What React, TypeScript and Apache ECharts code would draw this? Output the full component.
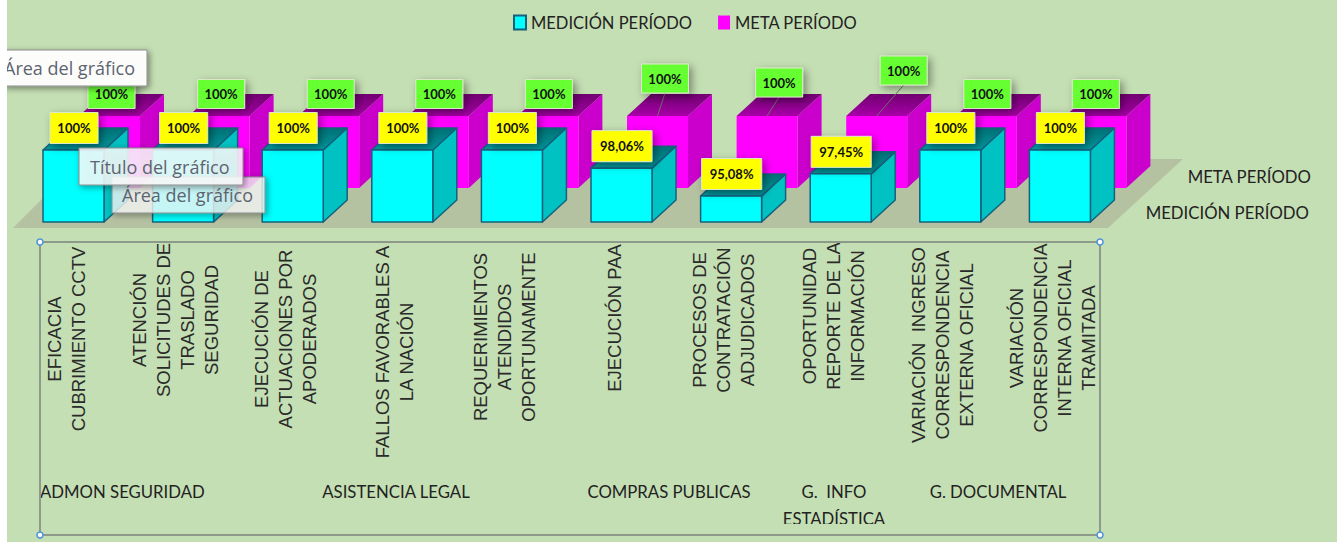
import React, { useEffect, useRef } from "react";
import * as echarts from "echarts";

const categories = [
  "EFICACIA\nCUBRIMIENTO CCTV",
  "ATENCIÓN\nSOLICITUDES DE\nTRASLADO\nSEGURIDAD",
  "EJECUCIÓN DE\nACTUACIONES POR\nAPODERADOS",
  "FALLOS FAVORABLES A\nLA NACIÓN",
  "REQUERIMIENTOS\nATENDIDOS\nOPORTUNAMENTE",
  "EJECUCIÓN PAA",
  "PROCESOS DE\nCONTRATACIÓN\nADJUDICADOS",
  "OPORTUNIDAD\nREPORTE DE LA\nINFORMACIÓN",
  "VARIACIÓN  INGRESO\nCORRESPONDENCIA\nEXTERNA OFICIAL",
  "VARIACIÓN\nCORRESPONDENCIA\nINTERNA OFICIAL\nTRAMITADA",
];
const medicion = [100, 100, 100, 100, 100, 98.06, 95.08, 97.45, 100, 100];
const meta = [100, 100, 100, 100, 100, 100, 100, 100, 100, 100];
const groups = ["ADMON SEGURIDAD", "ASISTENCIA LEGAL", "COMPRAS PUBLICAS", "G.  INFO", "G. DOCUMENTAL"];
const SERIES_MED = "MEDICIÓN PERÍODO";
const SERIES_META = "META PERÍODO";

// layout only
const Y_MIN = 92.3;
const BAR_W = 61;
const DEPTH_X = 24;
const DEPTH_Y = 22;
const META_X = 36;
const META_Y = 34;
const labelCenterY = [339, 320, 339, 352, 337, 318, 320, 316, 345, 338];
const LABEL_BASE_Y = 316;
const metaLabelDx = [38, 38, 38, 37, 37, 43.5, 48, 63, 37, 36];
const metaLabelDy = [0, 0, 0, 0, 0, -15.5, -11.5, -23.5, 0, 0];

const pct = (v: number) => (v === 100 ? "100%" : v.toFixed(2).replace(".", ",") + "%");

const grad = (a: string, b: string) =>
  new echarts.graphic.LinearGradient(0, 0, 0, 1, [
    { offset: 0, color: a },
    { offset: 1, color: b },
  ]);

function box3d(api: any, ox: number, oy: number, c: any) {
  const i = api.value(0);
  const [cx, top] = api.coord([i, api.value(1)]);
  const [, base] = api.coord([i, Y_MIN]);
  const l = cx - BAR_W / 2 + ox;
  const r = l + BAR_W;
  const t = top + oy;
  const b = base + oy;
  const st = { stroke: c.stroke, lineWidth: c.lw, lineJoin: "round" };
  return {
    type: "group",
    children: [
      { type: "polygon", shape: { points: [[r, t], [r + DEPTH_X, t - DEPTH_Y], [r + DEPTH_X, b - DEPTH_Y], [r, b]] }, style: { fill: c.side, ...st } },
      { type: "polygon", shape: { points: [[l, t], [l + DEPTH_X, t - DEPTH_Y], [r + DEPTH_X, t - DEPTH_Y], [r, t]] }, style: { fill: c.top, ...st } },
      { type: "rect", shape: { x: l, y: t, width: BAR_W, height: b - t }, style: { fill: c.front, ...st } },
    ],
  };
}

function tag(cx: number, bottom: number, w: number, h: number, fill: string, text: string) {
  return [
    {
      type: "rect",
      shape: { x: cx - w / 2, y: bottom - h, width: w, height: h },
      style: { fill, stroke: "#dbe8c8", lineWidth: 1, shadowBlur: 8, shadowColor: "rgba(0,0,0,0.4)", shadowOffsetX: 3, shadowOffsetY: 3 },
    },
    {
      type: "text",
      x: cx,
      y: bottom - h / 2,
      style: { text, fill: "#111", fontFamily: "Lato", fontWeight: "bold", fontSize: 13, align: "center", verticalAlign: "middle" },
    },
  ];
}

function tip(x: number, y: number, w: number, h: number, text: string, tx: number, alpha: number, z: number) {
  return [
    {
      type: "rect",
      z,
      shape: { x, y, width: w, height: h },
      style: { fill: `rgba(255,255,255,${alpha})`, stroke: "#8c8c8c", lineWidth: 1, shadowBlur: 6, shadowColor: "rgba(0,0,0,0.45)", shadowOffsetX: 2, shadowOffsetY: 2 },
    },
    {
      type: "text",
      z: z + 1,
      x: tx,
      y: y + h / 2,
      style: { text, fill: "#5d6470", fontFamily: "Open Sans", fontSize: 18, verticalAlign: "middle" },
    },
  ];
}

const darkText = { fill: "#222", fontFamily: "Lato", fontSize: 18, verticalAlign: "middle" };
const SQUEEZE = 0.93;
const dark = (x: number, y: number, text: string, align: string) => ({
  type: "text",
  z: 1,
  x,
  y,
  scaleX: SQUEEZE,
  style: { text, ...darkText, align },
});

export default function App() {
  const ref = useRef<HTMLDivElement>(null);
  useEffect(() => {
    document.body.style.margin = "0";
    document.body.style.overflow = "hidden";
    const chart = echarts.init(ref.current!, null, { renderer: "svg" });
    const corners = [[40, 242], [1100, 242], [40, 535], [1100, 535]];
    chart.setOption({
      animation: false,
      backgroundColor: "#fff",
      legend: {
        data: [SERIES_MED, SERIES_META],
        left: 508,
        top: 9,
        icon: "rect",
        itemWidth: 12,
        itemHeight: 14,
        itemGap: 26,
        textStyle: { fontFamily: "Lato", fontSize: 16.5, color: "#222" },
      },
      grid: [
        { left: 18.7, width: 1096, top: 150, height: 72, outerBoundsMode: "none" },
        { left: 11.2, width: 1096, top: 150, height: 72, outerBoundsMode: "none" },
      ],
      xAxis: [
        {
          type: "category",
          gridIndex: 0,
          data: categories,
          axisLine: { show: false },
          axisTick: { show: false },
          axisLabel: { show: false },
        },
        {
          type: "category",
          gridIndex: 1,
          data: categories.map((value, i) => ({
            value,
            textStyle: {
              align: "center",
              verticalAlign: "middle",
              padding: [0, 2 * (labelCenterY[i] - LABEL_BASE_Y), 0, 0],
            },
          })),
          axisLine: { show: false },
          axisTick: { show: false },
          axisLabel: {
            interval: 0,
            rotate: 90,
            align: "center",
            verticalAlign: "middle",
            margin: LABEL_BASE_Y - 222,
            lineHeight: 24,
            fontSize: 18.5,
            fontFamily: "Liberation Sans",
            color: "#2a2a2a",
          },
        },
      ],
      yAxis: [
        { type: "value", gridIndex: 0, show: false, min: Y_MIN, max: 100, splitLine: { show: false } },
        { type: "value", gridIndex: 1, show: false, min: Y_MIN, max: 100, splitLine: { show: false } },
      ],
      series: [
        {
          type: "custom",
          name: SERIES_META,
          z: 3,
          itemStyle: { color: "#ff00ff", borderColor: "#ff00ff" },
          encode: { x: 0, y: 1 },
          data: meta.map((v, i) => [i, v]),
          renderItem: (_p: any, api: any) =>
            box3d(api, META_X, -META_Y, { front: "#ff00ff", side: "#cc00cc", top: grad("#700070", "#a800a8"), stroke: "none", lw: 0 }),
        },
        {
          type: "custom",
          name: SERIES_MED,
          z: 4,
          itemStyle: { color: "#00ffff", borderColor: "#17607c", borderWidth: 1.5 },
          encode: { x: 0, y: 1 },
          data: medicion.map((v, i) => [i, v]),
          renderItem: (_p: any, api: any) =>
            box3d(api, 0, 0, { front: "#00ffff", side: "#00c2c2", top: grad("#006f74", "#009a9e"), stroke: "#17607c", lw: 1.5 }),
        },
        {
          type: "custom",
          z: 5,
          encode: { x: 0, y: 1 },
          data: meta.map((v, i) => [i, v]),
          renderItem: (_p: any, api: any) => {
            const i = api.value(0);
            const [cx, top] = api.coord([i, api.value(1)]);
            const t = top - META_Y;
            const lx = cx + metaLabelDx[i];
            const bottom = t - 7.5 + metaLabelDy[i];
            const children: any[] = [];
            if (metaLabelDy[i] !== 0) {
              children.push({
                type: "line",
                shape: { x1: cx + META_X, y1: t, x2: lx, y2: bottom },
                style: { stroke: "#707070", lineWidth: 1 },
              });
            }
            children.push(...tag(lx, bottom, 47, 29, "#66ff33", pct(api.value(1))));
            return { type: "group", children };
          },
        },
        {
          type: "custom",
          z: 6,
          encode: { x: 0, y: 1 },
          data: medicion.map((v, i) => [i, v]),
          renderItem: (_p: any, api: any) => {
            const i = api.value(0);
            const v = api.value(1);
            const [cx, top] = api.coord([i, v]);
            return { type: "group", children: tag(cx + 0.5, top - 6.5, v === 100 ? 48 : 60, 31, "#ffff00", pct(v)) };
          },
        },
      ],
      graphic: [
        { type: "rect", z: -5, shape: { x: 7, y: 0, width: 1330, height: 542 }, style: { fill: "#c5dfb4" } },
        { type: "polygon", z: 0, shape: { points: [[13, 228], [1108, 228], [1183, 159], [82, 159]] }, style: { fill: "#b5c2a2" } },
        dark(1311, 176, SERIES_META, "right"),
        dark(1309, 212, SERIES_MED, "right"),
        dark(40, 491, groups[0], "left"),
        dark(396, 491, groups[1], "center"),
        dark(669, 491, groups[2], "center"),
        dark(834, 491, groups[3], "center"),
        dark(834, 518, "ESTADÍSTICA", "center"),
        dark(998, 491, groups[4], "center"),
        { type: "rect", z: 2, shape: { x: 700, y: 524, width: 300, height: 9 }, style: { fill: "#c5dfb4" } },
        { type: "rect", z: 3, shape: { x: 40, y: 242, width: 1060, height: 293 }, style: { fill: "none", stroke: "#8d9a8a", lineWidth: 2 } },
        ...corners.map(([x, y]) => ({
          type: "circle",
          z: 4,
          shape: { cx: x, cy: y, r: 3 },
          style: { fill: "#fff", stroke: "#4a90d9", lineWidth: 1.5 },
        })),
        ...tip(112, 177, 153, 36, "Área del gráfico", 122, 0.72, 20),
        ...tip(79, 148, 164, 37, "Título del gráfico", 90, 0.82, 30),
        ...tip(3, 50, 144, 36, "Área del gráfico", 4, 0.96, 40),
        { type: "rect", z: 50, shape: { x: 0, y: 0, width: 7, height: 542 }, style: { fill: "#fff" } },
      ],
    });
    return () => chart.dispose();
  }, []);
  return <div ref={ref} style={{ width: 1337, height: 542 }} />;
}
